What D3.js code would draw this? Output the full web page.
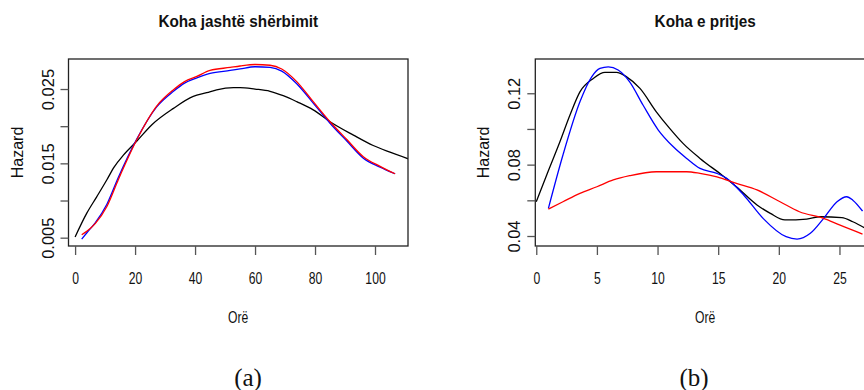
<!DOCTYPE html>
<html>
<head>
<meta charset="utf-8">
<script src="https://cdn.jsdelivr.net/npm/d3@7/dist/d3.min.js"></script>
<style>
  body { margin: 0; background: #fff; }
  text { font-family: "Liberation Sans", Arial, Helvetica, sans-serif; fill: #111; }
</style>
</head>
<body>
<div id="chart"></div>
<script>
// Panel (a): Koha jashtë shërbimit
const aTitle = "Koha jashtë shërbimit";
const aXTicks = [0, 20, 40, 60, 80, 100];
const aYTicks = [0.005, 0.010, 0.015, 0.020, 0.025];
const aYLabels = ["0.005", "", "0.015", "", "0.025"];

const aBlackX = [0, 3.9, 7.2, 10.6, 13, 16.1, 20.6, 25.6, 32.8, 39.4, 43.9, 47.2, 52.8, 55, 60, 65, 69.4, 73.9, 79.4, 85, 92.8, 99.4, 105, 111.1];
const aBlackY = [0.0051, 0.0083, 0.0105, 0.0128, 0.0145, 0.0161, 0.0180, 0.0202, 0.0224, 0.0240, 0.0245, 0.0249, 0.0252, 0.0252, 0.0250, 0.0247, 0.0241, 0.0233, 0.0222, 0.0206, 0.0188, 0.0174, 0.0165, 0.0156];

const aFitX = [2.2, 4, 6.7, 10.6, 14.4, 20.6, 27.2, 32.8, 36.5, 40.6, 45, 51.7, 55, 60, 65, 68.9, 73.9, 79.4, 85, 90.6, 96.1, 101.7, 106.7];
const aRedY = [0.0054, 0.0059, 0.0069, 0.0092, 0.0128, 0.0182, 0.0227, 0.0249, 0.0260, 0.0267, 0.0275, 0.0279, 0.0281, 0.0283, 0.0282, 0.0277, 0.0260, 0.0233, 0.0206, 0.0182, 0.0159, 0.0146, 0.0136];
const aBlueY = [0.0048, 0.0057, 0.0070, 0.0095, 0.0131, 0.0183, 0.0226, 0.0247, 0.0258, 0.0265, 0.0271, 0.0275, 0.0277, 0.0280, 0.0279, 0.0274, 0.0257, 0.0231, 0.0204, 0.0180, 0.0157, 0.0145, 0.0136];

// Panel (b): Koha e pritjes
const bTitle = "Koha e pritjes";
const bXTicks = [0, 5, 10, 15, 20, 25];
const bYTicks = [0.04, 0.06, 0.08, 0.10, 0.12];
const bYLabels = ["0.04", "", "0.08", "", "0.12"];

const bBlackX = [0, 0.86, 1.95, 2.78, 3.6, 4.7, 5.66, 6.6, 7.45, 8.55, 9.9, 11.0, 12.1, 13.5, 15.3, 16.5, 18.2, 19.3, 20.5, 22.3, 23.4, 25.2, 26.1, 26.9, 27.6];
const bBlackY = [0.0592, 0.0742, 0.0928, 0.1078, 0.1208, 0.1283, 0.1317, 0.1317, 0.1292, 0.1227, 0.1096, 0.1003, 0.0919, 0.0835, 0.0742, 0.0676, 0.0574, 0.0527, 0.0490, 0.0495, 0.0508, 0.0503, 0.0480, 0.0452, 0.0430];

const bBlueX = [1.0, 2.2, 3.6, 4.57, 5.25, 5.94, 6.75, 7.7, 8.8, 10.06, 11.3, 12.4, 13.5, 14.9, 15.7, 17.1, 18.7, 20.6, 21.5, 22.6, 23.7, 24.8, 25.6, 26.1, 26.9];
const bBlueY = [0.0555, 0.0854, 0.1152, 0.1292, 0.1339, 0.1348, 0.1330, 0.1264, 0.1134, 0.0994, 0.0900, 0.0835, 0.0779, 0.0751, 0.0723, 0.0630, 0.0499, 0.0396, 0.0383, 0.0415, 0.0499, 0.0592, 0.0620, 0.0601, 0.0540];

const bRedX = [1.0, 2.2, 3.6, 5, 6.35, 7.7, 9.9, 12.4, 13.5, 14.9, 16.5, 18.2, 20.1, 21.7, 23.7, 25, 26.9];
const bRedY = [0.0551, 0.0592, 0.0639, 0.0676, 0.0714, 0.0738, 0.0760, 0.0760, 0.0751, 0.0732, 0.0695, 0.0658, 0.0592, 0.0536, 0.0499, 0.0462, 0.0411];

const xLabel = "Orë";
const yLabel = "Hazard";
const tags = ["(a)", "(b)"];

const W = 864, H = 390;
const plotTop = 59, plotBottom = 246;

const svg = d3.select("#chart").append("svg")
    .attr("width", W).attr("height", H)
    .style("display", "block");
svg.append("rect").attr("width", W).attr("height", H).attr("fill", "#fff");

const pair = (xs, ys) => xs.map((x, i) => [x, ys[i]]);

const panels = [
  { id: "a", title: aTitle, tag: tags[0], left: 68.5, right: 408,
    xDom: [-2.2, 111], yDom: [0.00388, 0.02904],
    xTicks: aXTicks, yTicks: aYTicks, yLabels: aYLabels, hazardX: 22.7, tagX: 248,
    series: [
      { pts: pair(aBlackX, aBlackY), color: "#000" },
      { pts: pair(aFitX, aBlueY), color: "#0000ff" },
      { pts: pair(aFitX, aRedY), color: "#ff0000" }
    ] },
  { id: "b", title: bTitle, tag: tags[1], left: 535.3, right: 875,
    xDom: [-0.08, 27.93], yDom: [0.0344, 0.1392],
    xTicks: bXTicks, yTicks: bYTicks, yLabels: bYLabels, hazardX: 488.7, tagX: 694,
    series: [
      { pts: pair(bBlackX, bBlackY), color: "#000" },
      { pts: pair(bBlueX, bBlueY), color: "#0000ff" },
      { pts: pair(bRedX, bRedY), color: "#ff0000" }
    ] }
];

panels.forEach(p => {
  const x = d3.scaleLinear().domain(p.xDom).range([p.left, p.right]);
  const y = d3.scaleLinear().domain(p.yDom).range([plotBottom, plotTop]);
  const cx = (p.left + p.right) / 2;

  // clip to the plot box
  svg.append("clipPath").attr("id", "clip-" + p.id)
    .append("rect")
    .attr("x", p.left).attr("y", plotTop)
    .attr("width", p.right - p.left).attr("height", plotBottom - plotTop);

  const g = svg.append("g").attr("clip-path", `url(#clip-${p.id})`);
  const line = d3.line()
      .x(d => x(d[0]))
      .y(d => y(d[1]))
      .curve(d3.curveMonotoneX);
  p.series.forEach(s => {
    g.append("path")
      .datum(s.pts)
      .attr("fill", "none")
      .attr("stroke", s.color)
      .attr("stroke-width", 1.3)
      .attr("stroke-linejoin", "round")
      .attr("d", line);
  });

  // box
  svg.append("rect")
    .attr("x", p.left).attr("y", plotTop)
    .attr("width", p.right - p.left).attr("height", plotBottom - plotTop)
    .attr("fill", "none").attr("stroke", "#222").attr("stroke-width", 1.3);

  // x axis
  const xa = svg.append("g")
    .attr("transform", `translate(0,${plotBottom})`)
    .call(d3.axisBottom(x).tickValues(p.xTicks).tickSize(9).tickFormat(d3.format("d")));
  xa.select(".domain").remove();
  xa.selectAll("line").attr("stroke", "#555").attr("stroke-width", 1.3);
  xa.selectAll("text")
    .attr("y", 38).attr("dy", null)
    .attr("transform", "scale(0.76,1)")
    .style("font-size", "16px").attr("fill", "#111");

  // y axis
  const ya = svg.append("g")
    .attr("transform", `translate(${p.left},0)`)
    .call(d3.axisLeft(y).tickValues(p.yTicks).tickSize(8)
      .tickFormat((d, i) => p.yLabels[i]));
  ya.select(".domain").remove();
  ya.selectAll("line").attr("stroke", "#555").attr("stroke-width", 1.3);
  ya.selectAll("text")
    .attr("x", null).attr("dy", null)
    .attr("text-anchor", "middle")
    .attr("transform", "translate(-15,0) rotate(-90)")
    .style("font-size", "16.5px").attr("fill", "#111");

  // title
  svg.append("text")
    .attr("transform", `translate(${cx},27) scale(0.9,1)`)
    .attr("text-anchor", "middle")
    .style("font-size", "17px").style("font-weight", "bold")
    .text(p.title);

  // x label
  svg.append("text")
    .attr("transform", `translate(${cx},323) scale(0.76,1)`)
    .attr("text-anchor", "middle")
    .style("font-size", "16px")
    .text(xLabel);

  // y label
  svg.append("text")
    .attr("transform", `translate(${p.hazardX},${(plotTop + plotBottom) / 2}) rotate(-90)`)
    .attr("text-anchor", "middle")
    .style("font-size", "16px")
    .text(yLabel);

  // panel tag
  svg.append("text")
    .attr("x", p.tagX).attr("y", 386)
    .attr("text-anchor", "middle")
    .style("font-family", "'Liberation Serif', 'Times New Roman', serif")
    .style("font-size", "25px")
    .text(p.tag);
});
</script>
</body>
</html>
